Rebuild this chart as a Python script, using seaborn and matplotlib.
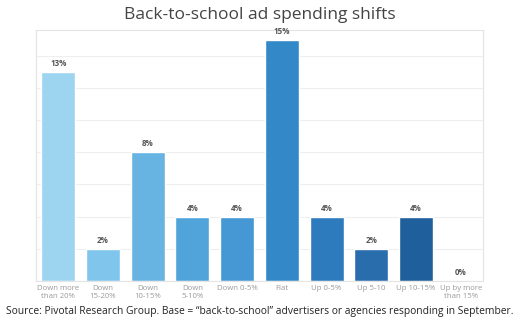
import matplotlib
matplotlib.use("Agg")
import matplotlib.pyplot as plt
import seaborn as sns
import pandas as pd

categories = ["Down more\nthan 20%", "Down\n15-20%", "Down\n10-15%", "Down\n5-10%", "Down 0-5%",
              "Flat", "Up 0-5%", "Up 5-10", "Up 10-15%", "Up by more\nthan 15%"]
values = [13, 2, 8, 4, 4, 15, 4, 2, 4, 0]
value_labels = ["13%", "2%", "8%", "4%", "4%", "15%", "4%", "2%", "4%", "0%"]
colors = ["#9dd5f1", "#80c5ec", "#67b4e3", "#50a4da", "#4598d3", "#3389c8",
          "#2d7bbd", "#2a6dad", "#1f5f9b", "#1b5490"]

sns.set_theme(style="white")
plt.rcParams["font.family"] = ["Open Sans", "DejaVu Sans"]

df = pd.DataFrame({"category": categories, "value": values})

fig = plt.figure(figsize=(5.2, 3.25), dpi=100)
ax = fig.add_axes([0.069, 0.135, 0.860, 0.773])

sns.barplot(data=df, x="category", y="value", hue="category", palette=colors,
            legend=False, width=0.76, ax=ax, saturation=1)

ax.set_ylim(0, 15.6)
ax.set_yticks(range(0, 16, 2))
ax.yaxis.grid(True, color="#eeeeee", linewidth=0.8)
ax.set_axisbelow(True)
ax.set_yticklabels([])
ax.tick_params(axis="y", length=0)
ax.tick_params(axis="x", length=0, labelsize=5.6, labelcolor="#9a9a9a", pad=3)
ax.set_xlabel("")
ax.set_ylabel("")
for s in ax.spines.values():
    s.set_color("#e4e4e4")
    s.set_linewidth(0.8)

for i, (v, lab) in enumerate(zip(values, value_labels)):
    ax.text(i, v + 0.25, lab, ha="center", va="bottom", fontsize=5.8,
            fontweight="bold", color="#555555")

fig.text(0.5, 0.955, "Back-to-school ad spending shifts", ha="center", va="center",
         fontsize=12.5, color="#444444")
fig.text(0.5, 0.043, "Source: Pivotal Research Group. Base = \u201cback-to-school\u201d advertisers or agencies responding in September.",
         ha="center", va="center", fontsize=7.4, color="#222222")

fig.savefig("out.png", dpi=100)
